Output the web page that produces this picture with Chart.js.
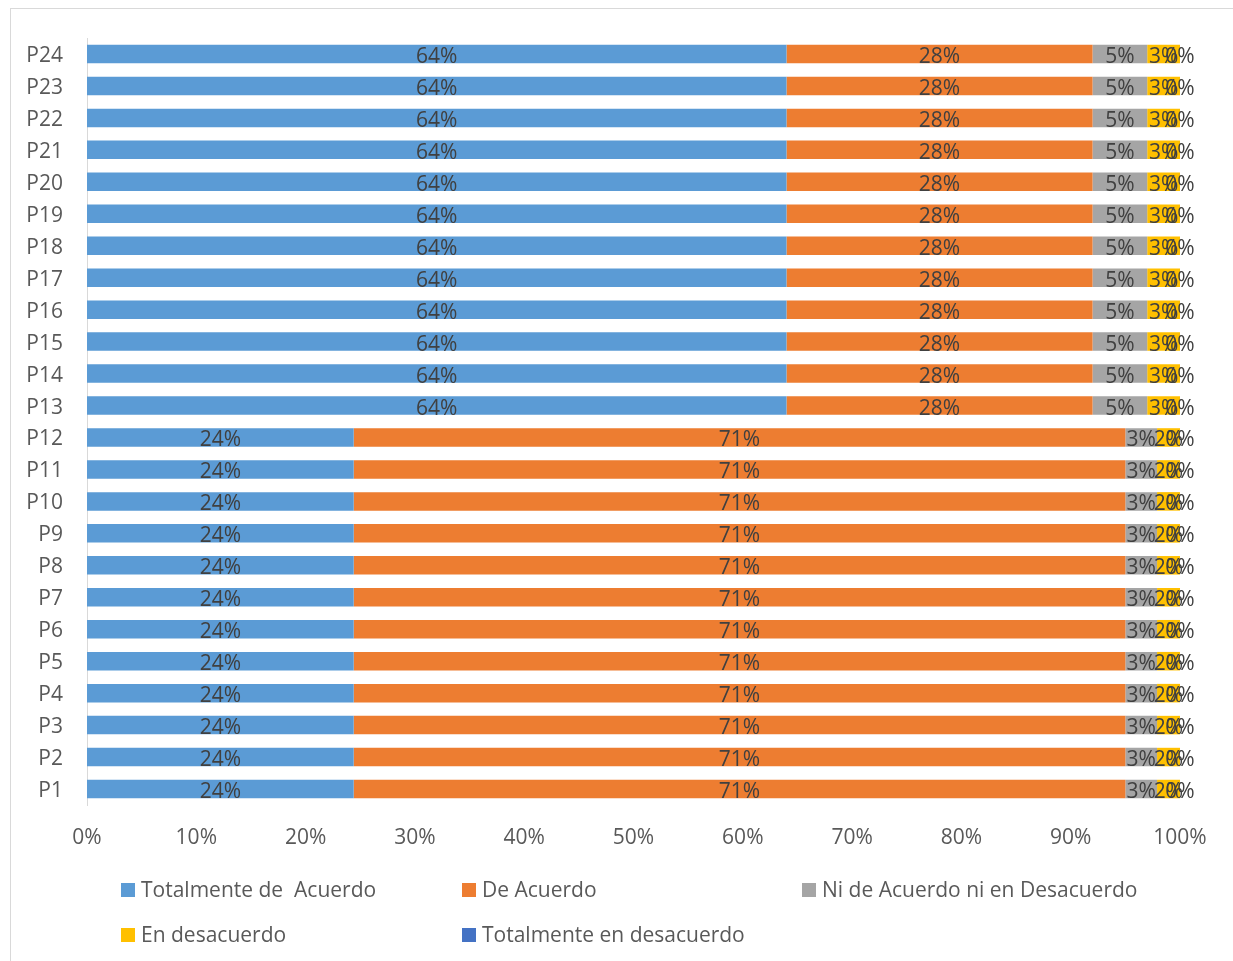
<!DOCTYPE html>
<html>
<head>
<meta charset="utf-8">
<script src="https://cdn.jsdelivr.net/npm/chart.js@4"></script>
<style>
  html, body { margin: 0; padding: 0; background: #fff; }
  #wrap { position: relative; width: 1233px; height: 961px; overflow: hidden; }
  #marco { position: absolute; left: 10px; top: 8px; width: 1300px; height: 1000px; border: 1px solid #d9d9d9; }
  #chartEncuesta { position: absolute; left: 0; top: 0; }
  #leyenda { position: absolute; left: 0; top: 0; font-family: "Open Sans", sans-serif; font-size: 21px; color: #595959; }
  .item { position: absolute; white-space: pre; line-height: 26px; }
  .item span { display: inline-block; width: 14px; height: 14px; margin-right: 6px; vertical-align: 0px; }
</style>
</head>
<body>
<div id="wrap">
  <div id="marco"></div>
  <canvas id="chartEncuesta"></canvas>
  <div id="leyenda"></div>
</div>
<script>
// Datos de la encuesta (P1 ... P24), en porcentaje
const preguntas = ['P1','P2','P3','P4','P5','P6','P7','P8','P9','P10','P11','P12',
                   'P13','P14','P15','P16','P17','P18','P19','P20','P21','P22','P23','P24'];
const totalmenteAcuerdo = [24.4,24.4,24.4,24.4,24.4,24.4,24.4,24.4,24.4,24.4,24.4,24.4, 64,64,64,64,64,64,64,64,64,64,64,64];
const deAcuerdo         = [70.6,70.6,70.6,70.6,70.6,70.6,70.6,70.6,70.6,70.6,70.6,70.6, 28,28,28,28,28,28,28,28,28,28,28,28];
const niAcuerdo         = [2.9,2.9,2.9,2.9,2.9,2.9,2.9,2.9,2.9,2.9,2.9,2.9,             5,5,5,5,5,5,5,5,5,5,5,5];
const enDesacuerdo      = [2.1,2.1,2.1,2.1,2.1,2.1,2.1,2.1,2.1,2.1,2.1,2.1,             3,3,3,3,3,3,3,3,3,3,3,3];
const totalDesacuerdo   = [0,0,0,0,0,0,0,0,0,0,0,0,                                     0,0,0,0,0,0,0,0,0,0,0,0];
const ticksX = [0,10,20,30,40,50,60,70,80,90,100];

const canvas = document.getElementById('chartEncuesta');
canvas.width = 1233;
canvas.height = 961;
canvas.style.width = '1233px';
canvas.style.height = '961px';
const ctx = canvas.getContext('2d');

const fuente = '"Open Sans", sans-serif';

// etiquetas dentro de las barras
const etiquetasBarras = {
    id: 'etiquetasBarras',
    afterDatasetsDraw(chart) {
        const c = chart.ctx;
        c.save();
        c.font = '21px ' + fuente;
        c.fillStyle = '#404040';
        c.textAlign = 'center';
        c.textBaseline = 'middle';
        chart.data.datasets.forEach((ds, i) => {
            const meta = chart.getDatasetMeta(i);
            meta.data.forEach((bar, j) => {
                const x = (bar.x + bar.base) / 2;
                c.fillText(Math.round(ds.data[j]) + '%', x, bar.y + 3);
            });
        });
        c.restore();
    }
};

const data = {
    labels: preguntas,
    datasets: [
        { label: 'Totalmente de  Acuerdo', data: totalmenteAcuerdo, backgroundColor: '#5B9BD5' },
        { label: 'De Acuerdo', data: deAcuerdo, backgroundColor: '#ED7D31' },
        { label: 'Ni de Acuerdo ni en Desacuerdo', data: niAcuerdo, backgroundColor: '#A5A5A5' },
        { label: 'En desacuerdo', data: enDesacuerdo, backgroundColor: '#FFC000' },
        { label: 'Totalmente en desacuerdo', data: totalDesacuerdo, backgroundColor: '#4472C4' }
    ]
};

const myChart = new Chart(ctx, {
    type: 'bar',
    data: data,
    plugins: [etiquetasBarras],
    options: {
        indexAxis: 'y',
        responsive: false,
        animation: false,
        devicePixelRatio: 1,
        datasets: { bar: { barPercentage: 0.58, categoryPercentage: 1 } },
        layout: { padding: { left: 10, right: 53, top: 38, bottom: 106 } },
        plugins: { legend: { display: false }, tooltip: { enabled: false } },
        scales: {
            x: {
                stacked: true,
                min: 0,
                max: 100,
                afterBuildTicks: (s) => { s.ticks = ticksX.map(v => ({ value: v })); },
                afterFit: (s) => { s.height = 50; },
                grid: { display: false },
                border: { display: false },
                ticks: { color: '#595959', font: { family: fuente, size: 21 }, padding: 12,
                         callback: (v) => v + '%' }
            },
            y: {
                stacked: true,
                reverse: true,
                afterFit: (s) => { s.width = 77; },
                grid: { display: false },
                border: { display: true, color: '#d9d9d9', width: 1 },
                ticks: { color: '#595959', font: { family: fuente, size: 21 }, padding: 16, labelOffset: 2 }
            }
        }
    }
});

// leyenda en tres columnas
const posiciones = [[121, 876], [462, 876], [802, 876], [121, 921], [462, 921]];
const leyenda = document.getElementById('leyenda');
myChart.data.datasets.forEach((ds, i) => {
    const d = document.createElement('div');
    d.className = 'item';
    d.style.left = posiciones[i][0] + 'px';
    d.style.top = posiciones[i][1] + 'px';
    d.innerHTML = '<span style="background:' + ds.backgroundColor + '"></span>' + ds.label;
    leyenda.appendChild(d);
});
</script>
</body>
</html>
